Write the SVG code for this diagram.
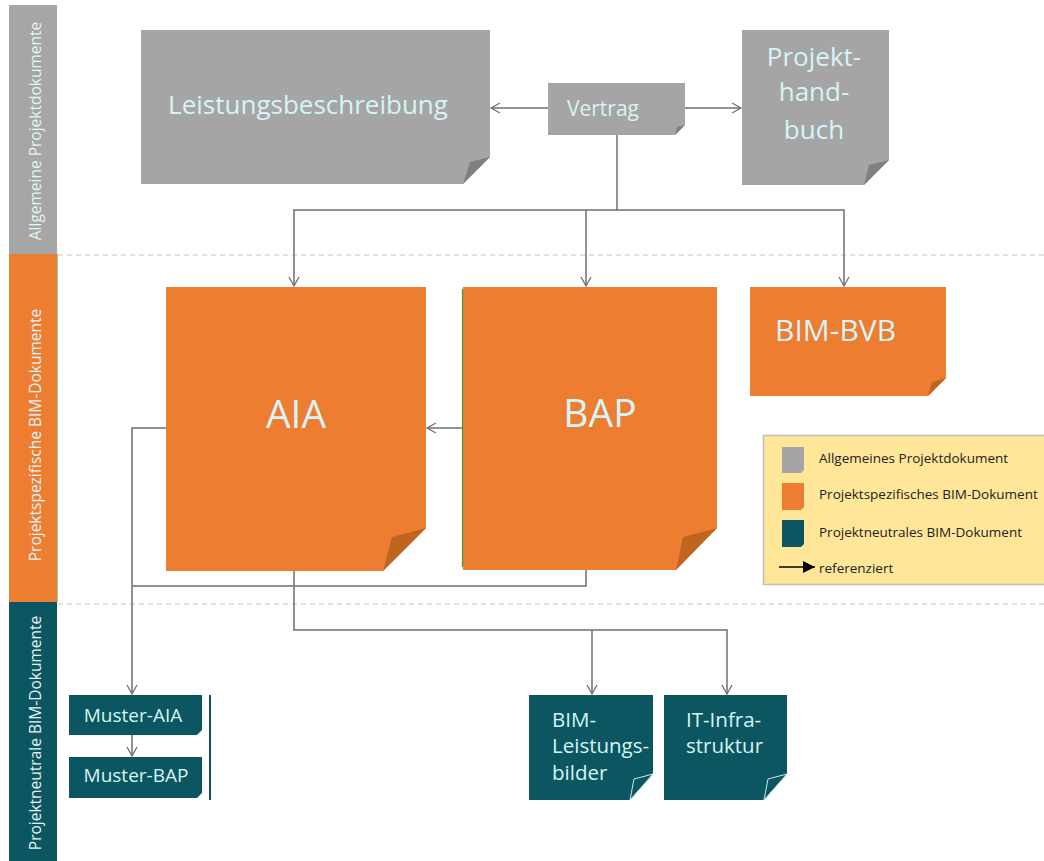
<svg xmlns="http://www.w3.org/2000/svg" width="1044" height="861" viewBox="0 0 1044 861">
<defs>
<style>
.lbl{font-family:"Open Sans","Liberation Sans",sans-serif;fill:#d6f4f6}
.band{font-family:"Open Sans","Liberation Sans",sans-serif;fill:#e4f3f5;font-size:15.5px}
.leg{font-family:"Open Sans","Liberation Sans",sans-serif;fill:#222;font-size:13.5px}
.grey{fill:#a5a5a5}
.greyf{fill:#808080}
.org{fill:#ed7d31}
.orgf{fill:#c0651f}
.teal{fill:#0b5660}
.tealf{fill:#0b5660;stroke:#cfe9ec;stroke-width:1}
.con{fill:none;stroke:#6f6f6f;stroke-width:1.5}
.dash{stroke:#c4c4c4;stroke-width:1.2;stroke-dasharray:5 4}
</style>
<marker id="arr" markerUnits="userSpaceOnUse" markerWidth="14" markerHeight="14" refX="10" refY="6" orient="auto">
<path d="M1,1 L10,6 L1,11" fill="none" stroke="#6f6f6f" stroke-width="1.3"/>
</marker>
<marker id="arrB" markerUnits="userSpaceOnUse" markerWidth="14" markerHeight="14" refX="12" refY="6" orient="auto">
<path d="M0,0 L12,6 L0,12 Z" fill="#000"/>
</marker>
</defs>

<g id="bands">
<rect x="9" y="5" width="48" height="249" fill="#a6a6a6"/>
<rect x="9" y="254" width="48" height="348" fill="#ed7d31"/>
<rect x="9" y="602" width="48" height="259" fill="#0b5660"/>
<line x1="57.5" y1="254" x2="57.5" y2="602" stroke="#8fd18a" stroke-width="1"/>
<text class="band" transform="translate(41,131) rotate(-90)" text-anchor="middle">Allgemeine Projektdokumente</text>
<text class="band" transform="translate(41,435) rotate(-90)" text-anchor="middle">Projektspezifische BIM-Dokumente</text>
<text class="band" transform="translate(41,733) rotate(-90)" text-anchor="middle">Projektneutrale BIM-Dokumente</text>
</g>

<g id="separators">
<line class="dash" x1="58" y1="255" x2="1044" y2="255"/>
<line class="dash" x1="58" y1="604" x2="1044" y2="604"/>
</g>

<g id="leistungsbeschreibung">
<polygon class="grey" points="141,30 490,30 490,157 463,184 141,184"/>
<polygon class="greyf" points="490,157 470,162 463,184"/>
<text class="lbl" x="308" y="114" font-size="26" text-anchor="middle">Leistungsbeschreibung</text>
</g>

<g id="vertrag">
<polygon class="grey" points="548,83 685,83 685,125 675,135 548,135"/>
<polygon class="greyf" points="685,125 677,127 675,135"/>
<text class="lbl" x="603" y="116" font-size="21" text-anchor="middle">Vertrag</text>
</g>

<g id="projekthandbuch">
<polygon class="grey" points="742,30 889,30 889,160 864,185 742,185"/>
<polygon class="greyf" points="889,160 869,165 864,185"/>
<text class="lbl" font-size="26" text-anchor="middle"><tspan x="814" y="66">Projekt-</tspan><tspan x="814" y="101">hand-</tspan><tspan x="814" y="139">buch</tspan></text>
</g>

<g id="aia">
<polygon class="org" points="166,287 426,287 426,528 383,571 166,571"/>
<polygon class="orgf" points="426,528 392,537 383,571"/>
<text class="lbl" x="296" y="428" font-size="39" text-anchor="middle">AIA</text>
</g>

<g id="bap">
<polygon class="org" points="463,287 717,287 717,528 676,570 463,570"/>
<polygon class="orgf" points="717,528 683,537 676,570"/>
<line x1="462.5" y1="289" x2="462.5" y2="567" stroke="#3f9a3a" stroke-width="1.2"/>
<text class="lbl" x="600" y="427" font-size="39" text-anchor="middle">BAP</text>
</g>

<g id="bimbvb">
<polygon class="org" points="750,287 946,287 946,378 928,396 750,396"/>
<polygon class="orgf" points="946,378 932,382 928,396"/>
<text class="lbl" x="775" y="341" font-size="30">BIM-BVB</text>
</g>

<g id="musteraia">
<polygon class="teal" points="69,695 202,695 202,730 197,735 69,735"/>
<text class="lbl" x="133" y="722" font-size="19" text-anchor="middle">Muster-AIA</text>
</g>

<g id="musterbap">
<polygon class="teal" points="69,757 202,757 202,793 197,798 69,798"/>
<text class="lbl" x="136" y="782" font-size="19" text-anchor="middle">Muster-BAP</text>
<line x1="210" y1="695" x2="210" y2="800" stroke="#0b5660" stroke-width="2"/>
</g>

<g id="bimleistungsbilder">
<polygon class="teal" points="529,695 653,695 653,774 630,800 529,800"/>
<polygon class="tealf" points="653,774 634,779 630,800"/>
<text class="lbl" font-size="20.5"><tspan x="552" y="727">BIM-</tspan><tspan x="552" y="753">Leistungs-</tspan><tspan x="552" y="780">bilder</tspan></text>
</g>

<g id="itinfrastruktur">
<polygon class="teal" points="664,695 787,695 787,774 764,800 664,800"/>
<polygon class="tealf" points="787,774 768,779 764,800"/>
<text class="lbl" font-size="20.5"><tspan x="686" y="727">IT-Infra-</tspan><tspan x="686" y="753">struktur</tspan></text>
</g>

<g id="connectors">
<path class="con" d="M548,108 H491" marker-end="url(#arr)"/>
<path class="con" d="M685,108 H741" marker-end="url(#arr)"/>
<path class="con" d="M617,135 V210 H294 V286" marker-end="url(#arr)"/>
<path class="con" d="M586,210 V286" marker-end="url(#arr)"/>
<path class="con" d="M617,210 H844 V286" marker-end="url(#arr)"/>
<path class="con" d="M463,428 H427" marker-end="url(#arr)"/>
<path class="con" d="M166,428 H132 V694" marker-end="url(#arr)"/>
<path class="con" d="M586,570 V586 H132"/>
<path class="con" d="M132,735 V756" marker-end="url(#arr)"/>
<path class="con" d="M294,571 V630 H727 V694" marker-end="url(#arr)"/>
<path class="con" d="M592,630 V694" marker-end="url(#arr)"/>
</g>

<g id="legend">
<rect x="763.5" y="435.5" width="290" height="149" fill="#ffe699" stroke="#bfbfbf" stroke-width="1.5"/>
<polygon class="grey" points="782,447 804,447 804,470 801,473 782,473"/>
<polygon class="org" points="782,483 804,483 804,507 801,510 782,510"/>
<polygon class="teal" points="782,520 804,520 804,544 801,547 782,547"/>
<text class="leg" x="819" y="463">Allgemeines Projektdokument</text>
<text class="leg" x="819" y="499">Projektspezifisches BIM-Dokument</text>
<text class="leg" x="819" y="537">Projektneutrales BIM-Dokument</text>
<path d="M779,567 H815" stroke="#000" stroke-width="1.3" marker-end="url(#arrB)"/>
<text class="leg" x="819" y="573">referenziert</text>
</g>
</svg>
